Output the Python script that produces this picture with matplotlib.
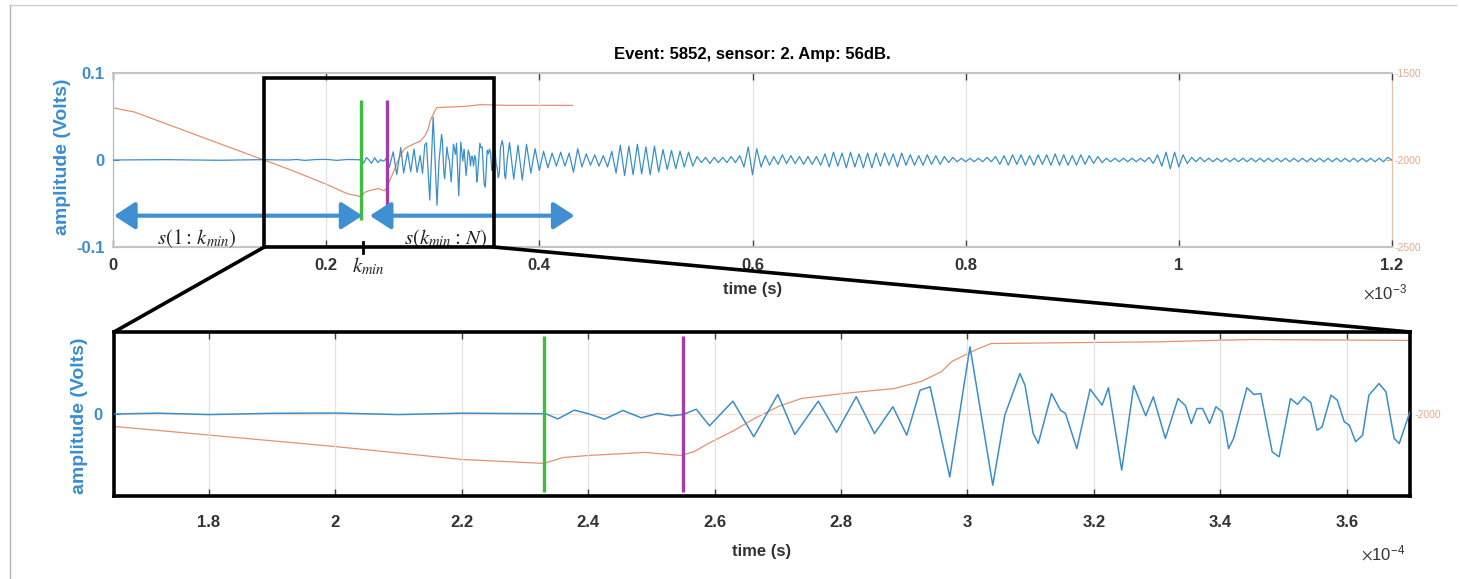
import matplotlib
matplotlib.use("Agg")
import matplotlib.pyplot as plt
import numpy as np
from matplotlib.patches import Rectangle, ConnectionPatch
from matplotlib.lines import Line2D
import matplotlib.transforms as mtransforms

plt.rcParams['font.family'] = ['Liberation Sans', 'DejaVu Sans']
plt.rcParams['mathtext.fontset'] = 'stix'

# ---------------- data ----------------
TITLE = "Event: 5852, sensor: 2. Amp: 56dB."

# acoustic signal, vertices (time in ms, amplitude in V)
sig_t_ms = [0.000, 0.050, 0.100, 0.140, 0.165, 0.172, 0.180, 0.190, 0.200, 0.210,
            0.220, 0.230, 0.2333, 0.2352, 0.2378, 0.2399, 0.2426, 0.2455, 0.2484, 0.2510,
            0.2531, 0.2550, 0.2571, 0.2592, 0.2629, 0.2662, 0.2700, 0.2727, 0.2764, 0.2793,
            0.2824, 0.2853, 0.2882, 0.2904, 0.2925, 0.2941, 0.2972, 0.3004, 0.3040, 0.3059,
            0.3083, 0.3091, 0.3104, 0.3112, 0.3133, 0.3147, 0.3155, 0.3173, 0.3194, 0.3213,
            0.3223, 0.3244, 0.3263, 0.3282, 0.3294, 0.3313, 0.3333, 0.3345, 0.3354, 0.3363,
            0.3372, 0.3383, 0.3393, 0.3403, 0.3413, 0.3421, 0.3442, 0.3453, 0.3464, 0.3482,
            0.3493, 0.3511, 0.3522, 0.3532, 0.3543, 0.3553, 0.3561, 0.3575, 0.3585, 0.3596,
            0.3604, 0.3614, 0.3625, 0.3635, 0.3651, 0.3662, 0.3675, 0.3683, 0.3699]
sig_amp = [0.0, 0.0004, -0.0003, 0.0004, 0.0, 0.0006, -0.0004, 0.0005, 0.0007, -0.0004,
           0.0006, 0.0003, 0.0002, -0.0036, 0.0028, 0.0004, -0.0038, 0.0026, -0.0028, 0.0004,
           -0.0013, -0.0004, 0.0035, -0.0086, 0.0094, -0.0167, 0.0143, -0.0150, 0.0094, -0.0135,
           0.0126, -0.0143, 0.0053, -0.0155, 0.0174, 0.0199, -0.0460, 0.0492, -0.0521, -0.0009,
           0.0296, 0.0211, -0.0143, -0.0216, 0.0150, 0.0028, 0.0004, -0.0253, 0.0182, 0.0065,
           0.0192, -0.0411, 0.0207, -0.0013, 0.0126, -0.0179, 0.0113, 0.0060, -0.0070, 0.0040,
           0.0040, -0.0070, 0.0053, 0.0016, -0.0253, -0.0179, 0.0192, 0.0143, 0.0150, -0.0277,
           -0.0313, 0.0113, 0.0070, 0.0126, 0.0084, -0.0119, -0.0094, 0.0138, 0.0101, -0.0057,
           -0.0082, -0.0203, -0.0155, 0.0138, 0.0223, 0.0162, -0.0179, -0.0216, 0.0004]

# signal coda, sampled every 4 us from 0.372 ms (values in mV)
tail_start_ms = 0.372
tail_step_ms = 0.004
tail_mv = [20, -22, 17, -23, 18, -15, 13, -12, 10, -9,
           8, -7, 9, -7, 8, -14, 13, -8, 7, -6,
           6, -7, 5, -8, 10, -15, 17, -18, 16, -17,
           18, -16, 15, -17, 16, -14, 12, -11, 11, -10,
           10, -8, 9, -7, 4, -3, 3, -4, 3, -3,
           3, -3, 4, -3, 5, -8, 15, -17, 13, -8,
           5, -6, 4, -5, 6, -4, 5, -4, 4, -5,
           4, -5, 4, -6, 7, -8, 9, -7, 8, -9,
           9, -8, 7, -9, 8, -9, 8, -7, 8, -6,
           7, -8, 8, -6, 6, -6, 5, -6, 6, -5,
           5, -5, 4, -3, 3, -2, 2, -2, 2, -2,
           2, -2, 3, -2, 4, -5, 5, -6, 6, -5,
           6, -6, 5, -6, 6, -5, 6, -6, 7, -6,
           6, -6, 5, -6, 6, -5, 5, -4, 4, -3,
           2, -2, 2, -2, 2, -2, 2, -2, 2, -2,
           3, -4, 6, -7, 9, -10, 9, -8, 6, -4,
           3, -2, 3, -2, 2, -2, 2, -2, 2, -2,
           2, -2, 2, -2, 2, -2, 2, -2, 2, -2,
           2, -2, 2, -2, 2, -2, 2, -2, 2, -2,
           2, -2, 2, -2, 2, -2, 2, -2, 2, -2,
           2, -2, 2, -2, 2, -2, 3, 0]

# AIC-like curve on right axis (time in ms, value)
aic_t_ms = [0.000, 0.020, 0.100, 0.165, 0.200, 0.220, 0.227, 0.233, 0.236, 0.240,
            0.249, 0.2547, 0.2568, 0.259, 0.2631, 0.2663, 0.2701, 0.2737, 0.2805, 0.2885,
            0.2927, 0.2959, 0.2975, 0.2995, 0.3018, 0.3038, 0.330, 0.345, 0.370, 0.431]
aic_val = [-1700, -1724, -1906, -2053, -2139, -2194, -2203, -2211, -2186, -2177,
           -2164, -2177, -2160, -2126, -2070, -2019, -1968, -1934, -1912, -1891,
           -1861, -1819, -1776, -1750, -1720, -1699, -1692, -1682, -1686, -1686]

k_min_ms = 0.233      # green marker
k_onset_ms = 0.255    # purple marker

top_xticks_ms = [0, 0.2, 0.4, 0.6, 0.8, 1.0, 1.2]
top_xticklabels = ['0', '0.2', '0.4', '0.6', '0.8', '1', '1.2']
top_yticks = [-0.1, 0, 0.1]
top_yticklabels = ['-0.1', '0', '0.1']
top_rticks = [-2500, -2000, -1500]
top_rticklabels = ['-2500', '-2000', '-1500']
bot_xticks_e4 = [1.8, 2.0, 2.2, 2.4, 2.6, 2.8, 3.0, 3.2, 3.4, 3.6]
bot_xticklabels = ['1.8', '2', '2.2', '2.4', '2.6', '2.8', '3', '3.2', '3.4', '3.6']
bot_yticks = [0]
bot_yticklabels = ['0']
bot_rticks = [-2000]
bot_rticklabels = ['-2000']

# ---------------- styles ----------------
BLUE = '#3a8fc8'
BLUE_LBL = '#3b8dcf'
ORANGE = '#e5916e'
ORANGE_LBL = '#eaa88c'
GREEN = '#3dbf3d'
PURPLE = '#a23da6'
ARROW = '#3f8fd2'
DARK = '#333333'
GRID = '#e3e3e3'

W, H = 1460, 579
fig = plt.figure(figsize=(W / 100, H / 100), dpi=100)


def rect(l, t, r, b):
    return [l / W, 1 - b / H, (r - l) / W, (b - t) / H]


ax1 = fig.add_axes(rect(113, 73, 1392, 247))
ax1r = ax1.twinx()
ax2 = fig.add_axes(rect(114, 332, 1410, 496))
ax2r = ax2.twinx()

for a, ar in [(ax1, ax1r), (ax2, ax2r)]:
    a.set_zorder(ar.get_zorder() + 1)
    a.patch.set_visible(False)

sig_t = np.concatenate([np.array(sig_t_ms),
                        tail_start_ms + tail_step_ms * np.arange(len(tail_mv))]) * 1e-3
sig_v = np.concatenate([np.array(sig_amp), np.array(tail_mv) / 1000.0])
aic_t = np.array(aic_t_ms) * 1e-3
aic_v = np.array(aic_val)

# ---------------- top panel ----------------
ax1.plot(sig_t, sig_v, color=BLUE, lw=0.9, zorder=3, solid_joinstyle='round')
ax1r.plot(aic_t, aic_v, color=ORANGE, lw=0.9)
ax1.set_xlim(0, 1.2e-3)
ax1.set_ylim(-0.1, 0.1)
ax1r.set_ylim(-2500, -1500)
ax1.vlines(k_min_ms * 1e-3, -0.069, 0.069, color=GREEN, lw=2.4, zorder=4)
ax1.vlines(k_onset_ms * 1e-3 + 0.002e-3, -0.054, 0.069, color=PURPLE, lw=2.4, zorder=4)

ax1.set_xticks(np.array(top_xticks_ms) * 1e-3, top_xticklabels,
               fontsize=12, fontweight='bold', color=DARK)
ax1.set_yticks(top_yticks, top_yticklabels, fontsize=12, fontweight='bold', color=BLUE_LBL)
ax1r.set_yticks(top_rticks, top_rticklabels, fontsize=7.5, color=ORANGE_LBL)
ax1.tick_params(axis='x', direction='in', top=True, length=5, width=1, color='#444444', pad=8)
ax1.tick_params(axis='y', direction='in', length=4, color=BLUE_LBL, pad=6)
ax1r.tick_params(axis='y', direction='in', length=4, color=ORANGE_LBL, pad=2)
ax1.grid(axis='x', color=GRID, lw=0.9)
ax1.set_axisbelow(True)
for s in ['top', 'bottom']:
    ax1.spines[s].set_color('#c4c4c4')
    ax1.spines[s].set_linewidth(1.5)
ax1.spines['left'].set_color('#8fc0e3')
ax1.spines['right'].set_visible(False)
for s in ['top', 'bottom', 'left']:
    ax1r.spines[s].set_visible(False)
ax1r.spines['right'].set_color('#f2bfa8')

ax1.set_title(TITLE, fontsize=12, fontweight='bold', pad=10)
ax1.set_xlabel('time (s)', fontsize=12, fontweight='bold', color=DARK)
ax1.xaxis.set_label_coords(0.5, -0.2)
ax1.set_ylabel('amplitude (Volts)', fontsize=14, fontweight='bold', color=BLUE_LBL)
ax1.yaxis.set_label_coords(-0.033, 0.52)
fig.text(1407 / W, 1 - 292 / H, r'$\times\mathregular{10^{-3}}$', fontsize=12,
         color=DARK, ha='right', va='center')

# arrows and labels
ARROW_Y = -0.064
ap = dict(arrowstyle='<|-|>,head_length=0.85,head_width=0.55', color=ARROW, lw=3,
          shrinkA=0, shrinkB=0, mutation_scale=15)
ax1.annotate('', xy=(0.234e-3, ARROW_Y), xytext=(0.001e-3, ARROW_Y), arrowprops=ap,
             annotation_clip=False, zorder=5)
ax1.annotate('', xy=(0.433e-3, ARROW_Y), xytext=(0.241e-3, ARROW_Y), arrowprops=ap,
             annotation_clip=False, zorder=5)
ax1.text(0.079e-3, -0.09, r'$s(1{:}\,k_{min})$', fontsize=15, ha='center', va='center',
         color='#222222', zorder=6)
ax1.text(0.312e-3, -0.09, r'$s(k_{min}{:}\,N)$', fontsize=15, ha='center', va='center',
         color='#222222', zorder=6)
trans = mtransforms.blended_transform_factory(ax1.transData, ax1.transAxes)
ax1.plot([0.2345e-3, 0.2345e-3], [0.03, -0.035], transform=trans, color='black', lw=2,
         clip_on=False, zorder=6)
ax1.text(0.2395e-3, -0.11, r'$k_{min}$', transform=trans, fontsize=15, ha='center',
         va='center', color='#222222')

# zoom box
BOX_X0, BOX_X1, BOX_TOP = 0.142e-3, 0.357e-3, 0.0943
ax1.add_patch(Rectangle((BOX_X0, -0.1), BOX_X1 - BOX_X0, BOX_TOP + 0.1, fill=False,
                        ec='black', lw=2.6, clip_on=False, zorder=7))

# ---------------- bottom panel ----------------
ax2.plot(sig_t, sig_v, color=BLUE, lw=1.1, zorder=3, solid_joinstyle='round')
ax2r.plot(aic_t, aic_v, color=ORANGE, lw=0.9)
ax2.set_xlim(1.65e-4, 3.70e-4)
ax2.set_ylim(-0.06, 0.06)
ax2r.set_ylim(-2350, -1650)
ax2.vlines(k_min_ms * 1e-3, -0.057, 0.057, color=GREEN, lw=2.4, zorder=4)
ax2.vlines(k_onset_ms * 1e-3, -0.057, 0.057, color=PURPLE, lw=2.4, zorder=4)
ax2r.axhline(-2000, color='#f6ddd2', lw=0.9)

ax2.set_xticks(np.array(bot_xticks_e4) * 1e-4, bot_xticklabels,
               fontsize=12, fontweight='bold', color=DARK)
ax2.set_yticks(bot_yticks, bot_yticklabels, fontsize=12, fontweight='bold', color=BLUE_LBL)
ax2r.set_yticks(bot_rticks, bot_rticklabels, fontsize=7.5, color=ORANGE_LBL)
ax2.tick_params(axis='x', direction='in', top=True, length=5, width=1, color='#444444', pad=14)
ax2.tick_params(axis='y', direction='in', length=4, color=BLUE_LBL, pad=8)
ax2r.tick_params(axis='y', direction='in', length=4, color=ORANGE_LBL, pad=3)
ax2.grid(axis='x', color=GRID, lw=0.9)
ax2.set_axisbelow(True)
for s in ax2.spines.values():
    s.set_color('black')
    s.set_linewidth(2.6)
for s in ax2r.spines.values():
    s.set_visible(False)

ax2.set_xlabel('time (s)', fontsize=12, fontweight='bold', color=DARK)
ax2.xaxis.set_label_coords(0.5, -0.29)
ax2.set_ylabel('amplitude (Volts)', fontsize=14, fontweight='bold', color=BLUE_LBL)
ax2.yaxis.set_label_coords(-0.02, 0.49)
fig.text(1405 / W, 1 - 553 / H, r'$\times\mathregular{10^{-4}}$', fontsize=12,
         color=DARK, ha='right', va='center')

# connectors from zoom box to bottom panel
for xa, xb in [(BOX_X0, 0), (BOX_X1, 1)]:
    con = ConnectionPatch(xyA=(xa, -0.1), coordsA=ax1.transData,
                          xyB=(xb, 1), coordsB=ax2.transAxes,
                          color='black', lw=2.6, zorder=8)
    fig.add_artist(con)

# thin frame of the figure
fig.add_artist(Line2D([10 / W, 10 / W], [0, 1 - 5 / H], transform=fig.transFigure,
                      color='#b5b5b5', lw=1))
fig.add_artist(Line2D([10 / W, 1456 / W], [1 - 5 / H, 1 - 5 / H], transform=fig.transFigure,
                      color='#cfcfcf', lw=1))

fig.savefig('out.png', dpi=100)
